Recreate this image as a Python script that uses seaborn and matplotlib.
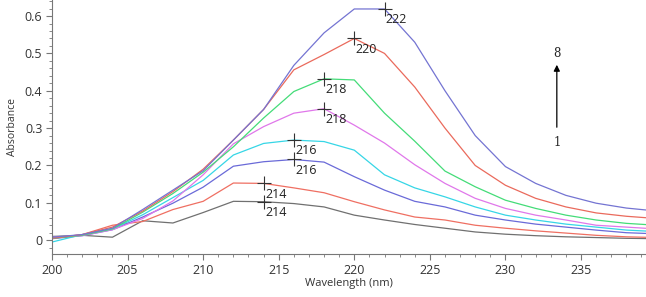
import matplotlib
matplotlib.use("Agg")
import matplotlib.pyplot as plt
from matplotlib.ticker import MultipleLocator
import pandas as pd
import seaborn as sns

sns.set_style("white")
plt.rcParams['font.family'] = ['Open Sans', 'DejaVu Sans']

# wavelengths (nm)
wl = [200, 202, 204, 206, 208, 210, 212, 214, 216, 218, 220,
      222, 224, 226, 228, 230, 232, 234, 236, 238, 240]

# absorbance spectra 1..8
c1 = [0.010, 0.013, 0.008, 0.052, 0.046, 0.074, 0.104, 0.103, 0.098, 0.089, 0.067,
      0.054, 0.042, 0.032, 0.022, 0.016, 0.012, 0.009, 0.007, 0.005, 0.004]
c2 = [0.005, 0.015, 0.040, 0.050, 0.082, 0.104, 0.153, 0.152, 0.140, 0.127, 0.103,
      0.081, 0.062, 0.054, 0.040, 0.032, 0.025, 0.019, 0.013, 0.009, 0.007]
c3 = [0.004, 0.012, 0.028, 0.062, 0.099, 0.142, 0.198, 0.210, 0.216, 0.209, 0.170,
      0.134, 0.104, 0.089, 0.067, 0.054, 0.043, 0.035, 0.027, 0.020, 0.017]
c4 = [-0.005, 0.015, 0.030, 0.068, 0.114, 0.160, 0.228, 0.259, 0.268, 0.264, 0.241,
      0.175, 0.140, 0.116, 0.089, 0.067, 0.054, 0.043, 0.035, 0.027, 0.023]
c5 = [0.008, 0.012, 0.028, 0.058, 0.105, 0.175, 0.258, 0.304, 0.340, 0.352, 0.308,
      0.260, 0.202, 0.152, 0.112, 0.085, 0.067, 0.054, 0.040, 0.035, 0.030]
c6 = [0.005, 0.013, 0.030, 0.075, 0.125, 0.182, 0.250, 0.327, 0.398, 0.432, 0.429,
      0.340, 0.265, 0.185, 0.143, 0.107, 0.085, 0.067, 0.054, 0.045, 0.040]
c7 = [0.005, 0.015, 0.035, 0.078, 0.130, 0.190, 0.268, 0.350, 0.456, 0.497, 0.540,
      0.500, 0.410, 0.300, 0.200, 0.147, 0.112, 0.089, 0.073, 0.064, 0.058]
c8 = [0.008, 0.015, 0.032, 0.082, 0.134, 0.186, 0.268, 0.350, 0.468, 0.555, 0.619,
      0.619, 0.530, 0.400, 0.280, 0.197, 0.152, 0.120, 0.099, 0.086, 0.078]

curves = [c1, c2, c3, c4, c5, c6, c7, c8]
colors = ['#707070', '#ef6f62', '#6a6ad8', '#36d6e6',
          '#e077ea', '#44dc78', '#ea6a5c', '#7474d2']

# peak maxima labels
peak_x = [214, 214, 216, 216, 218, 218, 220, 222]
peak_y = [0.103, 0.152, 0.216, 0.268, 0.352, 0.432, 0.540, 0.619]

rows = []
for i, c in enumerate(curves):
    for x, y in zip(wl, c):
        rows.append({'wl': x, 'A': y, 'spec': str(i + 1)})
df = pd.DataFrame(rows)

fig = plt.figure(figsize=(6.46, 2.97), dpi=100)
ax = fig.add_axes([0.0805, 0.1448, 0.9195, 0.8552])

sns.lineplot(data=df, x='wl', y='A', hue='spec',
             palette=dict(zip([str(i + 1) for i in range(8)], colors)),
             linewidth=0.9, legend=False, ax=ax)

ax.plot(peak_x, peak_y, linestyle='none', marker='+', markersize=10,
        markeredgewidth=0.8, color='#333333')
for x, y in zip(peak_x, peak_y):
    ax.annotate(str(x), (x, y), xytext=(1, -3), textcoords='offset points',
                ha='left', va='top', fontsize=9, color='#222222')

# arrow 1 -> 8
ax.annotate('', xy=(233.4, 0.477), xytext=(233.4, 0.295),
            arrowprops=dict(arrowstyle='-|>', color='black', lw=0.9,
                            mutation_scale=9))
ax.text(233.4, 0.50, '8', ha='center', va='center', fontsize=8.5,
        family='DejaVu Serif')
ax.text(233.4, 0.262, '1', ha='center', va='center', fontsize=8.5,
        family='DejaVu Serif')

ax.set_xlim(200, 239.3)
ax.set_ylim(-0.037, 0.643)
ax.xaxis.set_major_locator(MultipleLocator(5))
ax.xaxis.set_minor_locator(MultipleLocator(1))
ax.yaxis.set_major_locator(MultipleLocator(0.1))
ax.yaxis.set_minor_locator(MultipleLocator(0.02))
ax.set_yticks([0, 0.1, 0.2, 0.3, 0.4, 0.5, 0.6])
ax.set_yticklabels(['0', '0.1', '0.2', '0.3', '0.4', '0.5', '0.6'])

ax.tick_params(which='major', direction='out', length=4, width=0.8,
               color='#777777', labelsize=9, labelcolor='#333333', pad=3)
ax.tick_params(which='minor', direction='out', length=2.5, width=0.6,
               color='#777777')
ax.tick_params(axis='x', which='both', bottom=True)
ax.tick_params(axis='y', which='both', left=True)

for s in ['top', 'right']:
    ax.spines[s].set_visible(False)
for s in ['left', 'bottom']:
    ax.spines[s].set_color('#777777')
    ax.spines[s].set_linewidth(0.8)

ax.set_xlabel('Wavelength (nm)', fontsize=8, color='#333333', labelpad=1)
ax.set_ylabel('Absorbance', fontsize=7.5, color='#333333', labelpad=5)

fig.savefig('out.png', dpi=100)
